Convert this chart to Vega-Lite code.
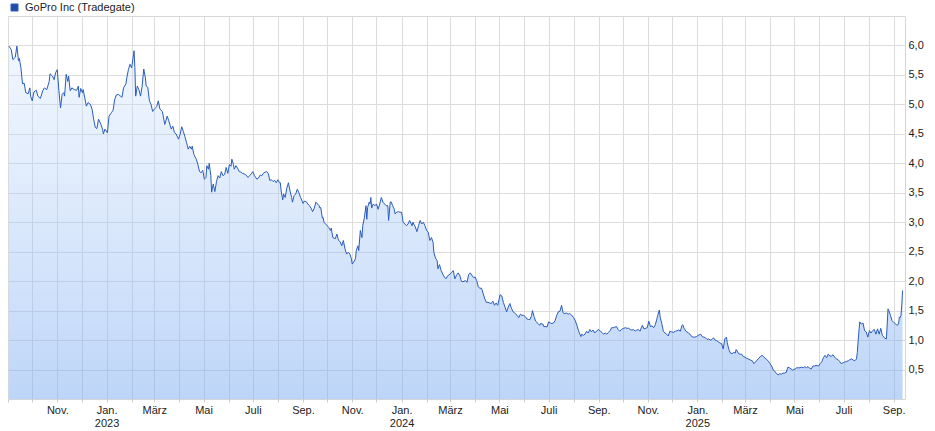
{
"$schema":"https://vega.github.io/schema/vega-lite/v6.json",
"width":897,"height":383,
"autosize":{"type":"none"},
"padding":{"left":8,"top":16,"right":30,"bottom":32},
"background":"#ffffff",
"config":{"font":"Liberation Sans","view":{"stroke":"#d6d6d6","strokeWidth":1}},
"data":{"values":[
{"d":"2022-09-02","v":5.99},{"d":"2022-09-05","v":5.93},{"d":"2022-09-07","v":5.76},{"d":"2022-09-10","v":5.80},{"d":"2022-09-12","v":5.99},{"d":"2022-09-14","v":5.74},{"d":"2022-09-15","v":5.78},{"d":"2022-09-17","v":5.62},{"d":"2022-09-19","v":5.35},{"d":"2022-09-21","v":5.36},{"d":"2022-09-23","v":5.20},{"d":"2022-09-26","v":5.18},{"d":"2022-09-28","v":5.28},{"d":"2022-09-29","v":5.14},
{"d":"2022-10-01","v":5.06},{"d":"2022-10-03","v":5.21},{"d":"2022-10-06","v":5.24},{"d":"2022-10-08","v":5.14},{"d":"2022-10-11","v":5.10},{"d":"2022-10-14","v":5.23},{"d":"2022-10-16","v":5.28},{"d":"2022-10-19","v":5.25},{"d":"2022-10-22","v":5.39},{"d":"2022-10-23","v":5.52},{"d":"2022-10-26","v":5.48},{"d":"2022-10-28","v":5.42},{"d":"2022-10-30","v":5.54},
{"d":"2022-11-01","v":5.59},{"d":"2022-11-03","v":5.23},{"d":"2022-11-05","v":4.94},{"d":"2022-11-07","v":5.17},{"d":"2022-11-09","v":5.20},{"d":"2022-11-10","v":5.14},{"d":"2022-11-12","v":5.51},{"d":"2022-11-14","v":5.39},{"d":"2022-11-15","v":5.48},{"d":"2022-11-17","v":5.23},{"d":"2022-11-19","v":5.28},{"d":"2022-11-22","v":5.25},{"d":"2022-11-25","v":5.24},{"d":"2022-11-27","v":5.31},{"d":"2022-11-28","v":5.12},{"d":"2022-11-30","v":5.27},
{"d":"2022-12-02","v":5.20},{"d":"2022-12-03","v":5.25},{"d":"2022-12-05","v":5.11},{"d":"2022-12-07","v":4.97},{"d":"2022-12-09","v":5.03},{"d":"2022-12-12","v":5.00},{"d":"2022-12-14","v":4.92},{"d":"2022-12-16","v":4.75},{"d":"2022-12-18","v":4.61},{"d":"2022-12-20","v":4.59},{"d":"2022-12-22","v":4.75},{"d":"2022-12-25","v":4.66},{"d":"2022-12-27","v":4.58},{"d":"2022-12-28","v":4.50},{"d":"2022-12-30","v":4.58},
{"d":"2023-01-02","v":4.52},{"d":"2023-01-04","v":4.80},{"d":"2023-01-07","v":4.86},{"d":"2023-01-09","v":4.90},{"d":"2023-01-11","v":5.08},{"d":"2023-01-13","v":5.16},{"d":"2023-01-16","v":5.17},{"d":"2023-01-18","v":5.14},{"d":"2023-01-20","v":5.12},{"d":"2023-01-22","v":5.28},{"d":"2023-01-25","v":5.35},{"d":"2023-01-26","v":5.45},{"d":"2023-01-28","v":5.59},{"d":"2023-01-30","v":5.68},
{"d":"2023-02-01","v":5.62},{"d":"2023-02-04","v":5.91},{"d":"2023-02-05","v":5.62},{"d":"2023-02-06","v":5.14},{"d":"2023-02-08","v":5.31},{"d":"2023-02-10","v":5.25},{"d":"2023-02-12","v":5.14},{"d":"2023-02-14","v":5.31},{"d":"2023-02-16","v":5.60},{"d":"2023-02-18","v":5.45},{"d":"2023-02-19","v":5.31},{"d":"2023-02-21","v":5.29},{"d":"2023-02-23","v":5.06},{"d":"2023-02-25","v":5.00},{"d":"2023-02-27","v":4.88},
{"d":"2023-03-01","v":4.92},{"d":"2023-03-04","v":4.96},{"d":"2023-03-06","v":5.06},{"d":"2023-03-08","v":4.92},{"d":"2023-03-11","v":4.88},{"d":"2023-03-14","v":4.66},{"d":"2023-03-17","v":4.80},{"d":"2023-03-19","v":4.72},{"d":"2023-03-22","v":4.58},{"d":"2023-03-24","v":4.63},{"d":"2023-03-26","v":4.52},{"d":"2023-03-28","v":4.50},{"d":"2023-03-31","v":4.41},
{"d":"2023-04-02","v":4.49},{"d":"2023-04-04","v":4.62},{"d":"2023-04-06","v":4.54},{"d":"2023-04-08","v":4.45},{"d":"2023-04-10","v":4.35},{"d":"2023-04-12","v":4.24},{"d":"2023-04-14","v":4.29},{"d":"2023-04-16","v":4.24},{"d":"2023-04-17","v":4.29},{"d":"2023-04-19","v":4.15},{"d":"2023-04-22","v":4.07},{"d":"2023-04-24","v":3.98},{"d":"2023-04-26","v":3.86},{"d":"2023-04-28","v":3.84},{"d":"2023-04-30","v":3.88},
{"d":"2023-05-02","v":3.73},{"d":"2023-05-04","v":3.76},{"d":"2023-05-05","v":3.96},{"d":"2023-05-07","v":3.90},{"d":"2023-05-08","v":4.00},{"d":"2023-05-10","v":3.79},{"d":"2023-05-11","v":3.51},{"d":"2023-05-13","v":3.65},{"d":"2023-05-15","v":3.52},{"d":"2023-05-17","v":3.69},{"d":"2023-05-19","v":3.79},{"d":"2023-05-21","v":3.75},{"d":"2023-05-23","v":3.86},{"d":"2023-05-25","v":3.79},{"d":"2023-05-27","v":3.81},{"d":"2023-05-29","v":3.93},{"d":"2023-05-31","v":3.83},
{"d":"2023-06-02","v":3.98},{"d":"2023-06-04","v":3.95},{"d":"2023-06-05","v":4.07},{"d":"2023-06-07","v":3.98},{"d":"2023-06-08","v":3.90},{"d":"2023-06-10","v":3.96},{"d":"2023-06-12","v":3.92},{"d":"2023-06-14","v":3.86},{"d":"2023-06-16","v":3.85},{"d":"2023-06-18","v":3.83},{"d":"2023-06-22","v":3.81},{"d":"2023-06-25","v":3.76},{"d":"2023-06-27","v":3.79},{"d":"2023-06-29","v":3.82},
{"d":"2023-07-01","v":3.86},{"d":"2023-07-03","v":3.79},{"d":"2023-07-06","v":3.73},{"d":"2023-07-08","v":3.75},{"d":"2023-07-10","v":3.80},{"d":"2023-07-12","v":3.79},{"d":"2023-07-14","v":3.83},{"d":"2023-07-16","v":3.85},{"d":"2023-07-18","v":3.86},{"d":"2023-07-20","v":3.83},{"d":"2023-07-22","v":3.71},{"d":"2023-07-24","v":3.72},{"d":"2023-07-26","v":3.69},{"d":"2023-07-28","v":3.71},{"d":"2023-07-30","v":3.67},
{"d":"2023-08-01","v":3.72},{"d":"2023-08-03","v":3.67},{"d":"2023-08-04","v":3.67},{"d":"2023-08-05","v":3.53},{"d":"2023-08-07","v":3.38},{"d":"2023-08-08","v":3.48},{"d":"2023-08-10","v":3.42},{"d":"2023-08-12","v":3.58},{"d":"2023-08-14","v":3.67},{"d":"2023-08-16","v":3.53},{"d":"2023-08-18","v":3.42},{"d":"2023-08-19","v":3.34},{"d":"2023-08-21","v":3.45},{"d":"2023-08-23","v":3.48},{"d":"2023-08-25","v":3.56},{"d":"2023-08-27","v":3.50},{"d":"2023-08-29","v":3.42},{"d":"2023-08-31","v":3.36},
{"d":"2023-09-01","v":3.32},{"d":"2023-09-03","v":3.36},{"d":"2023-09-05","v":3.35},{"d":"2023-09-07","v":3.31},{"d":"2023-09-09","v":3.28},{"d":"2023-09-11","v":3.24},{"d":"2023-09-13","v":3.18},{"d":"2023-09-15","v":3.24},{"d":"2023-09-17","v":3.34},{"d":"2023-09-19","v":3.31},{"d":"2023-09-21","v":3.28},{"d":"2023-09-22","v":3.24},{"d":"2023-09-23","v":3.25},{"d":"2023-09-25","v":3.07},{"d":"2023-09-26","v":3.08},{"d":"2023-09-27","v":3.00},{"d":"2023-09-29","v":2.97},
{"d":"2023-10-01","v":2.94},{"d":"2023-10-03","v":2.91},{"d":"2023-10-05","v":2.86},{"d":"2023-10-06","v":2.90},{"d":"2023-10-08","v":2.74},{"d":"2023-10-11","v":2.72},{"d":"2023-10-13","v":2.80},{"d":"2023-10-15","v":2.69},{"d":"2023-10-17","v":2.67},{"d":"2023-10-19","v":2.60},{"d":"2023-10-21","v":2.69},{"d":"2023-10-23","v":2.55},{"d":"2023-10-25","v":2.46},{"d":"2023-10-27","v":2.49},{"d":"2023-10-29","v":2.46},{"d":"2023-10-31","v":2.38},
{"d":"2023-11-01","v":2.29},{"d":"2023-11-03","v":2.33},{"d":"2023-11-05","v":2.38},{"d":"2023-11-06","v":2.52},{"d":"2023-11-08","v":2.60},{"d":"2023-11-09","v":2.52},{"d":"2023-11-11","v":2.86},{"d":"2023-11-13","v":2.74},{"d":"2023-11-14","v":2.94},{"d":"2023-11-16","v":3.08},{"d":"2023-11-18","v":3.28},{"d":"2023-11-19","v":3.05},{"d":"2023-11-20","v":3.25},{"d":"2023-11-22","v":3.34},{"d":"2023-11-23","v":3.31},{"d":"2023-11-24","v":3.42},{"d":"2023-11-25","v":3.24},{"d":"2023-11-27","v":3.31},{"d":"2023-11-29","v":3.28},
{"d":"2023-12-01","v":3.31},{"d":"2023-12-03","v":3.22},{"d":"2023-12-05","v":3.31},{"d":"2023-12-07","v":3.42},{"d":"2023-12-09","v":3.34},{"d":"2023-12-11","v":3.31},{"d":"2023-12-13","v":3.28},{"d":"2023-12-15","v":3.28},{"d":"2023-12-16","v":3.03},{"d":"2023-12-18","v":3.34},{"d":"2023-12-19","v":3.35},{"d":"2023-12-21","v":3.28},{"d":"2023-12-23","v":3.22},{"d":"2023-12-24","v":3.14},{"d":"2023-12-26","v":3.17},{"d":"2023-12-28","v":3.18},{"d":"2023-12-30","v":3.17},
{"d":"2024-01-01","v":3.17},{"d":"2024-01-03","v":3.00},{"d":"2024-01-05","v":2.97},{"d":"2024-01-07","v":2.94},{"d":"2024-01-09","v":2.97},{"d":"2024-01-11","v":3.03},{"d":"2024-01-14","v":2.94},{"d":"2024-01-15","v":3.00},{"d":"2024-01-18","v":2.92},{"d":"2024-01-20","v":2.84},{"d":"2024-01-22","v":2.94},{"d":"2024-01-24","v":3.03},{"d":"2024-01-26","v":2.97},{"d":"2024-01-28","v":3.00},{"d":"2024-01-30","v":2.94},
{"d":"2024-02-01","v":2.86},{"d":"2024-02-03","v":2.83},{"d":"2024-02-05","v":2.69},{"d":"2024-02-07","v":2.74},{"d":"2024-02-09","v":2.66},{"d":"2024-02-10","v":2.49},{"d":"2024-02-12","v":2.39},{"d":"2024-02-14","v":2.35},{"d":"2024-02-15","v":2.21},{"d":"2024-02-17","v":2.28},{"d":"2024-02-19","v":2.18},{"d":"2024-02-21","v":2.12},{"d":"2024-02-23","v":2.07},{"d":"2024-02-25","v":2.04},{"d":"2024-02-27","v":2.09},
{"d":"2024-03-01","v":2.12},{"d":"2024-03-03","v":2.15},{"d":"2024-03-05","v":2.18},{"d":"2024-03-07","v":2.04},{"d":"2024-03-09","v":2.10},{"d":"2024-03-11","v":2.14},{"d":"2024-03-13","v":2.10},{"d":"2024-03-15","v":2.00},{"d":"2024-03-17","v":1.99},{"d":"2024-03-20","v":2.01},{"d":"2024-03-22","v":1.98},{"d":"2024-03-24","v":2.11},{"d":"2024-03-26","v":2.14},{"d":"2024-03-28","v":2.10},{"d":"2024-03-30","v":2.06},
{"d":"2024-04-01","v":2.07},{"d":"2024-04-03","v":2.01},{"d":"2024-04-05","v":1.90},{"d":"2024-04-07","v":1.88},{"d":"2024-04-09","v":1.88},{"d":"2024-04-11","v":1.79},{"d":"2024-04-13","v":1.70},{"d":"2024-04-15","v":1.64},{"d":"2024-04-17","v":1.64},{"d":"2024-04-19","v":1.63},{"d":"2024-04-21","v":1.62},{"d":"2024-04-23","v":1.66},{"d":"2024-04-25","v":1.59},{"d":"2024-04-27","v":1.63},{"d":"2024-04-29","v":1.59},
{"d":"2024-05-02","v":1.77},{"d":"2024-05-04","v":1.75},{"d":"2024-05-06","v":1.64},{"d":"2024-05-08","v":1.56},{"d":"2024-05-10","v":1.48},{"d":"2024-05-12","v":1.56},{"d":"2024-05-14","v":1.62},{"d":"2024-05-16","v":1.54},{"d":"2024-05-18","v":1.48},{"d":"2024-05-20","v":1.46},{"d":"2024-05-23","v":1.42},{"d":"2024-05-25","v":1.38},{"d":"2024-05-27","v":1.44},{"d":"2024-05-29","v":1.42},{"d":"2024-05-31","v":1.42},
{"d":"2024-06-02","v":1.40},{"d":"2024-06-04","v":1.36},{"d":"2024-06-06","v":1.35},{"d":"2024-06-08","v":1.35},{"d":"2024-06-10","v":1.42},{"d":"2024-06-11","v":1.50},{"d":"2024-06-13","v":1.40},{"d":"2024-06-15","v":1.32},{"d":"2024-06-18","v":1.28},{"d":"2024-06-20","v":1.25},{"d":"2024-06-21","v":1.28},{"d":"2024-06-24","v":1.27},{"d":"2024-06-25","v":1.23},{"d":"2024-06-28","v":1.23},{"d":"2024-06-29","v":1.22},
{"d":"2024-07-01","v":1.31},{"d":"2024-07-03","v":1.29},{"d":"2024-07-05","v":1.28},{"d":"2024-07-07","v":1.29},{"d":"2024-07-09","v":1.33},{"d":"2024-07-11","v":1.42},{"d":"2024-07-13","v":1.48},{"d":"2024-07-15","v":1.49},{"d":"2024-07-17","v":1.59},{"d":"2024-07-19","v":1.46},{"d":"2024-07-21","v":1.45},{"d":"2024-07-23","v":1.46},{"d":"2024-07-25","v":1.44},{"d":"2024-07-27","v":1.45},{"d":"2024-07-29","v":1.43},
{"d":"2024-08-01","v":1.38},{"d":"2024-08-03","v":1.33},{"d":"2024-08-05","v":1.25},{"d":"2024-08-07","v":1.16},{"d":"2024-08-08","v":1.12},{"d":"2024-08-10","v":1.06},{"d":"2024-08-11","v":1.10},{"d":"2024-08-13","v":1.08},{"d":"2024-08-15","v":1.10},{"d":"2024-08-17","v":1.15},{"d":"2024-08-19","v":1.12},{"d":"2024-08-21","v":1.18},{"d":"2024-08-23","v":1.14},{"d":"2024-08-25","v":1.17},{"d":"2024-08-27","v":1.12},{"d":"2024-08-29","v":1.15},
{"d":"2024-09-01","v":1.18},{"d":"2024-09-03","v":1.15},{"d":"2024-09-05","v":1.13},{"d":"2024-09-07","v":1.10},{"d":"2024-09-09","v":1.12},{"d":"2024-09-11","v":1.10},{"d":"2024-09-13","v":1.13},{"d":"2024-09-15","v":1.16},{"d":"2024-09-17","v":1.21},{"d":"2024-09-19","v":1.21},{"d":"2024-09-21","v":1.22},{"d":"2024-09-23","v":1.23},{"d":"2024-09-25","v":1.18},{"d":"2024-09-27","v":1.15},{"d":"2024-09-29","v":1.18},
{"d":"2024-10-02","v":1.20},{"d":"2024-10-04","v":1.21},{"d":"2024-10-06","v":1.20},{"d":"2024-10-08","v":1.20},{"d":"2024-10-10","v":1.18},{"d":"2024-10-12","v":1.17},{"d":"2024-10-14","v":1.18},{"d":"2024-10-16","v":1.15},{"d":"2024-10-18","v":1.17},{"d":"2024-10-20","v":1.18},{"d":"2024-10-22","v":1.15},{"d":"2024-10-24","v":1.22},{"d":"2024-10-25","v":1.25},{"d":"2024-10-27","v":1.19},{"d":"2024-10-31","v":1.21},
{"d":"2024-11-02","v":1.32},{"d":"2024-11-04","v":1.23},{"d":"2024-11-06","v":1.24},{"d":"2024-11-08","v":1.21},{"d":"2024-11-10","v":1.26},{"d":"2024-11-12","v":1.36},{"d":"2024-11-13","v":1.42},{"d":"2024-11-15","v":1.51},{"d":"2024-11-16","v":1.39},{"d":"2024-11-18","v":1.28},{"d":"2024-11-20","v":1.15},{"d":"2024-11-22","v":1.12},{"d":"2024-11-24","v":1.10},{"d":"2024-11-26","v":1.07},{"d":"2024-11-28","v":1.15},{"d":"2024-11-30","v":1.14},
{"d":"2024-12-02","v":1.13},{"d":"2024-12-05","v":1.15},{"d":"2024-12-07","v":1.16},{"d":"2024-12-09","v":1.17},{"d":"2024-12-11","v":1.15},{"d":"2024-12-13","v":1.25},{"d":"2024-12-14","v":1.26},{"d":"2024-12-16","v":1.19},{"d":"2024-12-18","v":1.15},{"d":"2024-12-21","v":1.12},{"d":"2024-12-23","v":1.10},{"d":"2024-12-25","v":1.06},{"d":"2024-12-27","v":1.05},{"d":"2024-12-29","v":1.05},{"d":"2024-12-31","v":1.06},
{"d":"2025-01-02","v":1.08},{"d":"2025-01-05","v":1.10},{"d":"2025-01-07","v":1.06},{"d":"2025-01-09","v":1.05},{"d":"2025-01-11","v":1.04},{"d":"2025-01-13","v":1.01},{"d":"2025-01-15","v":1.02},{"d":"2025-01-17","v":1.00},{"d":"2025-01-19","v":1.01},{"d":"2025-01-21","v":1.04},{"d":"2025-01-23","v":1.00},{"d":"2025-01-25","v":0.99},{"d":"2025-01-27","v":0.97},{"d":"2025-01-29","v":0.95},{"d":"2025-01-31","v":0.94},
{"d":"2025-02-02","v":0.85},{"d":"2025-02-04","v":1.02},{"d":"2025-02-06","v":1.05},{"d":"2025-02-07","v":0.96},{"d":"2025-02-09","v":0.84},{"d":"2025-02-11","v":0.78},{"d":"2025-02-13","v":0.77},{"d":"2025-02-15","v":0.79},{"d":"2025-02-17","v":0.78},{"d":"2025-02-18","v":0.84},{"d":"2025-02-20","v":0.80},{"d":"2025-02-21","v":0.77},{"d":"2025-02-23","v":0.76},{"d":"2025-02-25","v":0.76},{"d":"2025-02-27","v":0.72},
{"d":"2025-03-01","v":0.71},{"d":"2025-03-03","v":0.69},{"d":"2025-03-05","v":0.68},{"d":"2025-03-08","v":0.66},{"d":"2025-03-10","v":0.65},{"d":"2025-03-12","v":0.60},{"d":"2025-03-14","v":0.63},{"d":"2025-03-16","v":0.66},{"d":"2025-03-18","v":0.69},{"d":"2025-03-20","v":0.72},{"d":"2025-03-22","v":0.74},{"d":"2025-03-24","v":0.72},{"d":"2025-03-26","v":0.69},{"d":"2025-03-28","v":0.67},{"d":"2025-03-30","v":0.64},
{"d":"2025-04-01","v":0.60},{"d":"2025-04-03","v":0.56},{"d":"2025-04-05","v":0.49},{"d":"2025-04-07","v":0.47},{"d":"2025-04-09","v":0.43},{"d":"2025-04-11","v":0.41},{"d":"2025-04-13","v":0.43},{"d":"2025-04-15","v":0.42},{"d":"2025-04-17","v":0.44},{"d":"2025-04-19","v":0.44},{"d":"2025-04-21","v":0.45},{"d":"2025-04-23","v":0.54},{"d":"2025-04-25","v":0.53},{"d":"2025-04-27","v":0.51},{"d":"2025-04-29","v":0.49},
{"d":"2025-05-02","v":0.51},{"d":"2025-05-04","v":0.53},{"d":"2025-05-06","v":0.53},{"d":"2025-05-08","v":0.53},{"d":"2025-05-10","v":0.54},{"d":"2025-05-12","v":0.53},{"d":"2025-05-14","v":0.55},{"d":"2025-05-16","v":0.53},{"d":"2025-05-18","v":0.55},{"d":"2025-05-20","v":0.52},{"d":"2025-05-22","v":0.51},{"d":"2025-05-24","v":0.56},{"d":"2025-05-26","v":0.56},{"d":"2025-05-28","v":0.57},{"d":"2025-05-31","v":0.56},
{"d":"2025-06-02","v":0.60},{"d":"2025-06-04","v":0.63},{"d":"2025-06-06","v":0.70},{"d":"2025-06-08","v":0.74},{"d":"2025-06-10","v":0.70},{"d":"2025-06-12","v":0.76},{"d":"2025-06-14","v":0.73},{"d":"2025-06-16","v":0.73},{"d":"2025-06-18","v":0.75},{"d":"2025-06-20","v":0.71},{"d":"2025-06-22","v":0.68},{"d":"2025-06-24","v":0.67},{"d":"2025-06-26","v":0.64},{"d":"2025-06-28","v":0.60},
{"d":"2025-07-01","v":0.62},{"d":"2025-07-03","v":0.63},{"d":"2025-07-05","v":0.64},{"d":"2025-07-07","v":0.65},{"d":"2025-07-09","v":0.67},{"d":"2025-07-11","v":0.68},{"d":"2025-07-13","v":0.66},{"d":"2025-07-15","v":0.65},{"d":"2025-07-17","v":0.68},{"d":"2025-07-18","v":0.79},{"d":"2025-07-19","v":0.99},{"d":"2025-07-21","v":1.31},{"d":"2025-07-22","v":1.29},{"d":"2025-07-23","v":1.27},{"d":"2025-07-25","v":1.29},{"d":"2025-07-27","v":1.16},{"d":"2025-07-29","v":1.14},{"d":"2025-07-31","v":1.05},
{"d":"2025-08-02","v":1.16},{"d":"2025-08-04","v":1.12},{"d":"2025-08-06","v":1.16},{"d":"2025-08-08","v":1.18},{"d":"2025-08-10","v":1.10},{"d":"2025-08-12","v":1.19},{"d":"2025-08-14","v":1.10},{"d":"2025-08-16","v":1.20},{"d":"2025-08-18","v":1.08},{"d":"2025-08-20","v":1.05},{"d":"2025-08-21","v":1.03},{"d":"2025-08-23","v":1.02},{"d":"2025-08-25","v":1.53},{"d":"2025-08-26","v":1.50},{"d":"2025-08-28","v":1.42},{"d":"2025-08-30","v":1.33},
{"d":"2025-09-01","v":1.30},{"d":"2025-09-03","v":1.28},{"d":"2025-09-05","v":1.25},{"d":"2025-09-07","v":1.27},{"d":"2025-09-08","v":1.39},{"d":"2025-09-09","v":1.38},{"d":"2025-09-10","v":1.42},{"d":"2025-09-11","v":1.59},{"d":"2025-09-12","v":1.84}
]},
"encoding":{
"x":{"field":"d","type":"temporal",
"scale":{"type":"utc","domain":[{"year":2022,"month":9,"date":1,"utc":true},{"year":2025,"month":9,"date":15,"utc":true}]},
"axis":{"title":null,"tickCount":{"interval":"month","step":1},"grid":true,"gridColor":"#dcdcdc","gridWidth":1,"domain":false,"ticks":true,"tickSize":3,"tickColor":"#cfcfcf","labelOverlap":false,"labelFlush":false,"labelBound":false,"labelPadding":2,"labelFont":"Liberation Sans","labelFontSize":11,"labelColor":"#222222","labelLineHeight":13,"labelBaseline":"top",
"labelExpr":"(utcyear(datum.value)==2022 && utcmonth(datum.value)==8) ? '' : (utcmonth(datum.value)==0 ? ['Jan.', toString(utcyear(datum.value))] : ['','','März','','Mai','','Juli','','Sep.','','Nov.',''][utcmonth(datum.value)])"}},
"y":{"field":"v","type":"quantitative",
"scale":{"domain":[0,6.5],"nice":false,"zero":true},
"axis":{"title":null,"orient":"right","values":[0.5,1,1.5,2,2.5,3,3.5,4,4.5,5,5.5,6],"grid":true,"gridColor":"#dcdcdc","gridWidth":1,"domain":false,"ticks":false,"labelPadding":3,"labelFont":"Liberation Sans","labelFontSize":11,"labelColor":"#222222","labelExpr":"replace(format(datum.value,'.1f'),'.',',')"}}
},
"layer":[
{"mark":{"type":"area","line":false,"fill":{"gradient":"linear","x1":0,"y1":0,"x2":0,"y2":1,"stops":[{"offset":0,"color":"rgba(205,225,252,0.3)"},{"offset":1,"color":"rgba(123,171,241,0.5)"}]}}},
{"mark":{"type":"line","strokeWidth":1,"interpolate":"linear"},
"encoding":{"color":{"datum":"GoPro Inc (Tradegate)","scale":{"range":["#2a5cbd"]},
"legend":{"title":null,"orient":"none","legendX":1,"legendY":-14,"padding":0,"symbolType":"square","symbolSize":49,"symbolFillColor":"#1f4ea6","symbolStrokeColor":"#111111","symbolStrokeWidth":1,"labelFont":"Liberation Sans","labelFontSize":11,"labelColor":"#222222","labelOffset":5}}}}
]
}
